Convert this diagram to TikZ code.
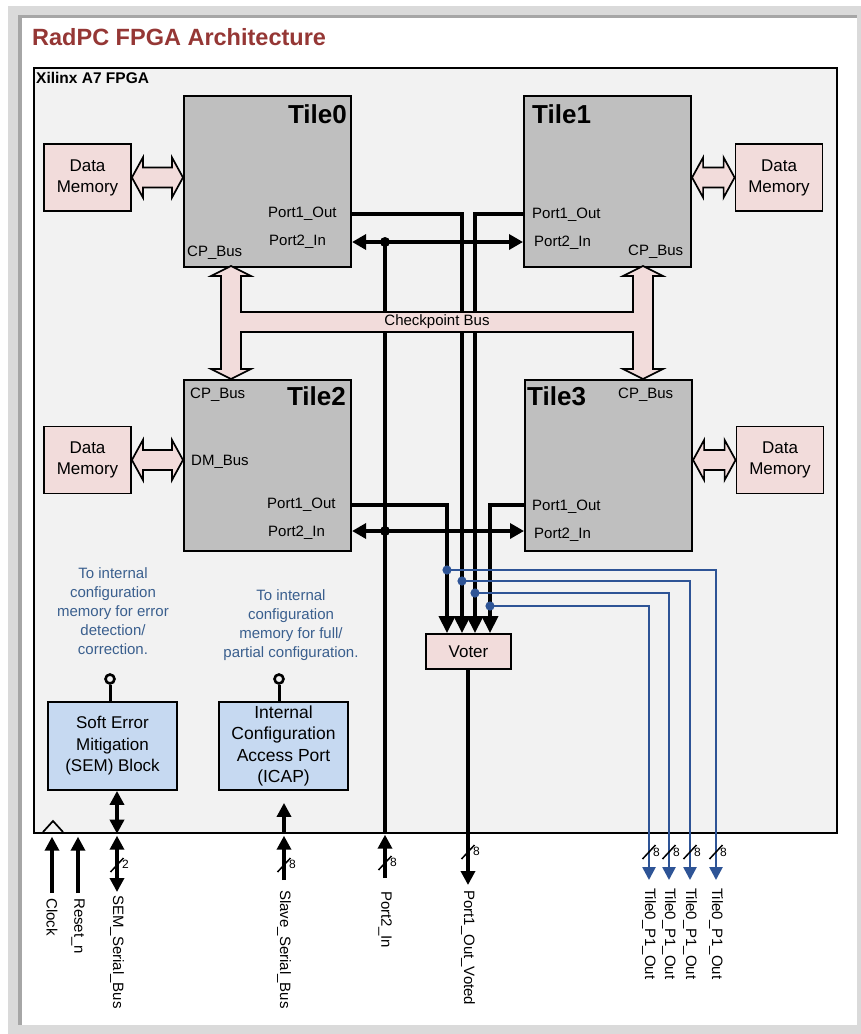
\documentclass[tikz,border=0pt]{standalone}
\usepackage{fontspec}
\setmainfont{Liberation Sans}
\usetikzlibrary{arrows.meta,calc}
\definecolor{titlered}{HTML}{953735}
\definecolor{fpgabg}{HTML}{F2F2F2}
\definecolor{tilegray}{HTML}{BFBFBF}
\definecolor{pinkf}{HTML}{F2DCDB}
\definecolor{bluebox}{HTML}{C6D9F1}
\definecolor{bluewire}{HTML}{2E5496}
\definecolor{bluetext}{HTML}{3A5F8E}
\definecolor{framegray}{HTML}{DADADA}
\definecolor{framedark}{HTML}{A6A6A6}
\newcommand\hdarrow[2]{%
  \path (#1) coordinate (hA) (#2) coordinate (hB);
  \draw[fatarrow] (hA) -- ($(hA)+(11,-20)$) -- ($(hA)+(11,-10)$) -- ($(hB)+(-11,-10)$) -- ($(hB)+(-11,-20)$) -- (hB) -- ($(hB)+(-11,20)$) -- ($(hB)+(-11,10)$) -- ($(hA)+(11,10)$) -- ($(hA)+(11,20)$) -- cycle;}
\begin{document}
\begin{tikzpicture}[x=1pt,y=-1pt,
  lbl/.style={inner sep=0pt, font=\fontsize{15}{18}\selectfont},
  ttl/.style={inner sep=0pt, font=\fontsize{26}{30}\selectfont\bfseries},
  rlbl/.style={inner sep=0pt, rotate=-90, anchor=west, font=\fontsize{15}{18}\selectfont},
  wl/.style={inner sep=0pt, anchor=west, font=\fontsize{12}{14}\selectfont},
  tilebox/.style={draw, line width=2.1pt, fill=tilegray, inner sep=0pt, minimum width=167pt, minimum height=171pt, anchor=north west},
  membox/.style={draw, line width=1.8pt, fill=pinkf, inner sep=0pt, minimum width=87pt, minimum height=67pt, align=center, font=\fontsize{17}{21}\selectfont},
  cfgbox/.style={draw, line width=1.8pt, fill=bluebox, inner sep=0pt, minimum width=129pt, minimum height=88pt, align=center},
  note/.style={align=center, text=bluetext, inner sep=0pt, font=\fontsize{15}{19}\selectfont},
  pinc/.style={circle, draw, line width=2.6pt, fill=fpgabg, minimum size=9pt, inner sep=0pt},
  fatarrow/.style={draw, line width=1.7pt, fill=pinkf, line join=miter},
  wire/.style={line width=3.4pt, black},
  bwire/.style={line width=2.6pt, bluewire},
  PT/.tip={Triangle[length=14pt,width=15pt]},
  VT/.tip={Triangle[length=17pt,width=16pt]},
  BT/.tip={Triangle[length=14pt,width=14pt]},
  BLT/.tip={Triangle[length=13pt,width=13pt]},
  busw/.pic={\draw[line width=1.5pt, black] (-6.5,7) -- (6.5,-7);}
]
\useasboundingbox (0,0) rectangle (861,1034);
% frame
\fill[framegray] (8,6) rectangle (861,1034);
\fill[white] (22,18) rectangle (857,1025);
\fill[framedark] (18,15) rectangle (857,18);
\fill[framedark] (18,15) rectangle (22,1025);

\node[anchor=base west, inner sep=0pt, text=titlered, font=\fontsize{23.5}{27}\selectfont\bfseries] (title) at (32,45) {RadPC FPGA Architecture};

% FPGA box
\node[draw, line width=1.7pt, fill=fpgabg, minimum width=803pt, minimum height=765pt, anchor=north west, inner sep=0pt] (fpga) at (33,67) {};
\node[anchor=base west, inner sep=0pt, font=\fontsize{15.5}{18}\selectfont\bfseries] (fpgalbl) at (36,83) {Xilinx A7 FPGA};

% tiles
\node[tilebox] (t0) at (183,95) {};
\node[tilebox] (t1) at (523,95) {};
\node[tilebox] (t2) at (183,379) {};
\node[tilebox] (t3) at (524,379) {};

\node[ttl, anchor=base east] (t0n) at (347,123) {Tile0};
\node[ttl, anchor=base west] (t1n) at (532,123) {Tile1};
\node[ttl, anchor=base east] (t2n) at (346,405) {Tile2};
\node[ttl, anchor=base west] (t3n) at (527,405) {Tile3};

\node[lbl, anchor=base west] (t0p1) at (268,217) {Port1\_Out};
\node[lbl, anchor=base west] (t0p2) at (269,245) {Port2\_In};
\node[lbl, anchor=base west] (t0cp) at (187,256) {CP\_Bus};
\node[lbl, anchor=base west] (t1p1) at (532,218) {Port1\_Out};
\node[lbl, anchor=base west] (t1p2) at (534,246) {Port2\_In};
\node[lbl, anchor=base west] (t1cp) at (628,255) {CP\_Bus};
\node[lbl, anchor=base west] (t2cp) at (190,398) {CP\_Bus};
\node[lbl, anchor=base west] (t2dm) at (191,465) {DM\_Bus};
\node[lbl, anchor=base west] (t2p1) at (267,508) {Port1\_Out};
\node[lbl, anchor=base west] (t2p2) at (268,536) {Port2\_In};
\node[lbl, anchor=base west] (t3cp) at (618,398) {CP\_Bus};
\node[lbl, anchor=base west] (t3p1) at (532,510) {Port1\_Out};
\node[lbl, anchor=base west] (t3p2) at (534,538) {Port2\_In};

% data memories
\node[membox] (m0) at (87.5,177.5) {Data\\Memory};
\node[membox] (m1) at (779,177.5) {Data\\Memory};
\node[membox] (m2) at (87.5,460) {Data\\Memory};
\node[membox] (m3) at (780,460) {Data\\Memory};
\hdarrow{m0.east}{t0.west |- m0.east}
\hdarrow{t1.east |- m1.west}{m1.west}
\hdarrow{m2.east}{t2.west |- m2.east}
\hdarrow{t3.east |- m3.west}{m3.west}

% voter
\node[membox, minimum width=85pt, minimum height=35pt] (vot) at (468.5,651.5) {Voter};

% wires
\coordinate (a0) at (462,214);
\coordinate (a1) at (475,214);
\coordinate (a2) at (447,505);
\coordinate (a3) at (490,505);
\coordinate (d0) at (385,242);
\coordinate (d2) at (385,531);
\draw[wire] (d0) -- (d0 |- fpga.south);
\draw[wire,-VT] (t0.east |- a0) -- (a0) -- (a0 |- vot.north);
\draw[wire,-VT] (t1.west |- a1) -- (a1) -- (a1 |- vot.north);
\draw[wire,-VT] (t2.east |- a2) -- (a2) -- (a2 |- vot.north);
\draw[wire,-VT] (t3.west |- a3) -- (a3) -- (a3 |- vot.north);
\draw[wire,PT-PT] (t0.east |- d0) -- (t1.west |- d0);
\draw[wire,PT-PT] (t2.east |- d2) -- (t3.west |- d2);
\fill (d0) circle[radius=5pt];
\fill (d2) circle[radius=5pt];

% checkpoint bus
\draw[fatarrow] (231,266) -- (251,276) -- (241,276) -- (241,312) -- (633,312) -- (633,276) -- (623,276) -- (643,266) -- (663,276) -- (653,276) -- (653,369) -- (663,369) -- (643,379) -- (623,369) -- (633,369) -- (633,332) -- (241,332) -- (241,369) -- (251,369) -- (231,379) -- (211,369) -- (221,369) -- (221,276) -- (211,276) -- cycle;
\node[lbl] (cpb) at (437,322) {Checkpoint Bus};

% blue taps
\coordinate (b1) at (447,570);
\coordinate (b2) at (462,581);
\coordinate (b3) at (475,593);
\coordinate (b4) at (490,606);
\coordinate (e1) at (716,880);
\coordinate (e2) at (690,880);
\coordinate (e3) at (669,880);
\coordinate (e4) at (649,880);
\draw[bwire,-BLT] (b1) -- (b1 -| e1) -- (e1);
\draw[bwire,-BLT] (b2) -- (b2 -| e2) -- (e2);
\draw[bwire,-BLT] (b3) -- (b3 -| e3) -- (e3);
\draw[bwire,-BLT] (b4) -- (b4 -| e4) -- (e4);
\foreach \b in {b1,b2,b3,b4} {\fill[bluewire] (\b) circle[radius=4.6pt];}
\foreach \e/\n in {e1/w1,e2/w2,e3/w3,e4/w4} {
  \pic at ($(\e)+(0,-28)$) {busw};
  \node[wl] (\n) at ($(\e)+(4,-28)$) {8};
  \node[rlbl] at ($(\e)+(0,8)$) {Tile0\_P1\_Out};
}

% SEM and ICAP
\node[cfgbox, font=\fontsize{17}{21.5}\selectfont] (sem) at (112.5,746) {Soft Error\\Mitigation\\(SEM) Block};
\node[cfgbox, font=\fontsize{17.5}{21.3}\selectfont] (icap) at (283.5,746) {Internal\\Configuration\\Access Port\\(ICAP)};
\node[note] (n1) at (113,611) {To internal\\configuration\\memory for error\\detection/\\correction.};
\node[note] (n2) at (291,625) {To internal\\configuration\\memory for full/\\partial configuration.};
\node[pinc] (c1) at (110,679) {};
\node[pinc] (c2) at (279,679) {};
\draw[line width=3pt] (c1.south) -- (c1.south |- sem.north);
\draw[line width=3pt] (c2.south) -- (c2.south |- icap.north);

% bottom ports
\coordinate (clkB) at (52,893);
\coordinate (rstB) at (78,893);
\coordinate (semB) at (117,892);
\coordinate (slvB) at (284,880);
\coordinate (p2B) at (385,878);
\coordinate (voB) at (468,885);
\draw[line width=1.7pt, line join=miter] (43,832) -- (53,821) -- (63,832);
\draw[wire,-BT] (clkB) -- ($(clkB |- fpga.south)+(0,3)$);
\draw[wire,-BT] (rstB) -- ($(rstB |- fpga.south)+(0,3)$);
\draw[wire,BT-BT] (semB |- sem.south) -- (semB |- fpga.south);
\draw[wire,BT-BT] ($(semB |- fpga.south)+(0,2)$) -- (semB);
\draw[wire,-BT] (slvB |- fpga.south) -- ($(slvB |- icap.south)+(0,12)$);
\draw[wire,-BT] (slvB) -- ($(slvB |- fpga.south)+(0,2)$);
\draw[wire,-BT] (p2B) -- ($(p2B |- fpga.south)+(0,1)$);
\draw[wire,-BT] (vot.south -| voB) -- (voB);

\pic at (117,865) {busw};
\node[wl] (w5) at (122,864) {2};
\pic at (284,865) {busw};
\node[wl] (w6) at (289,864) {8};
\pic at (385,863) {busw};
\node[wl] (w7) at (390,862) {8};
\pic at (468,852) {busw};
\node[wl] (w8) at (473,851) {8};

\node[rlbl] (lclk) at (52,898) {Clock};
\node[rlbl] (lrst) at (78,898) {Reset\_n};
\node[rlbl] (lsem) at (117,895) {SEM\_Serial\_Bus};
\node[rlbl] (lslv) at (284,890) {Slave\_Serial\_Bus};
\node[rlbl] (lp2) at (385,891) {Port2\_In};
\node[rlbl] (lvo) at (468,890) {Port1\_Out\_Voted};
\end{tikzpicture}
\end{document}
